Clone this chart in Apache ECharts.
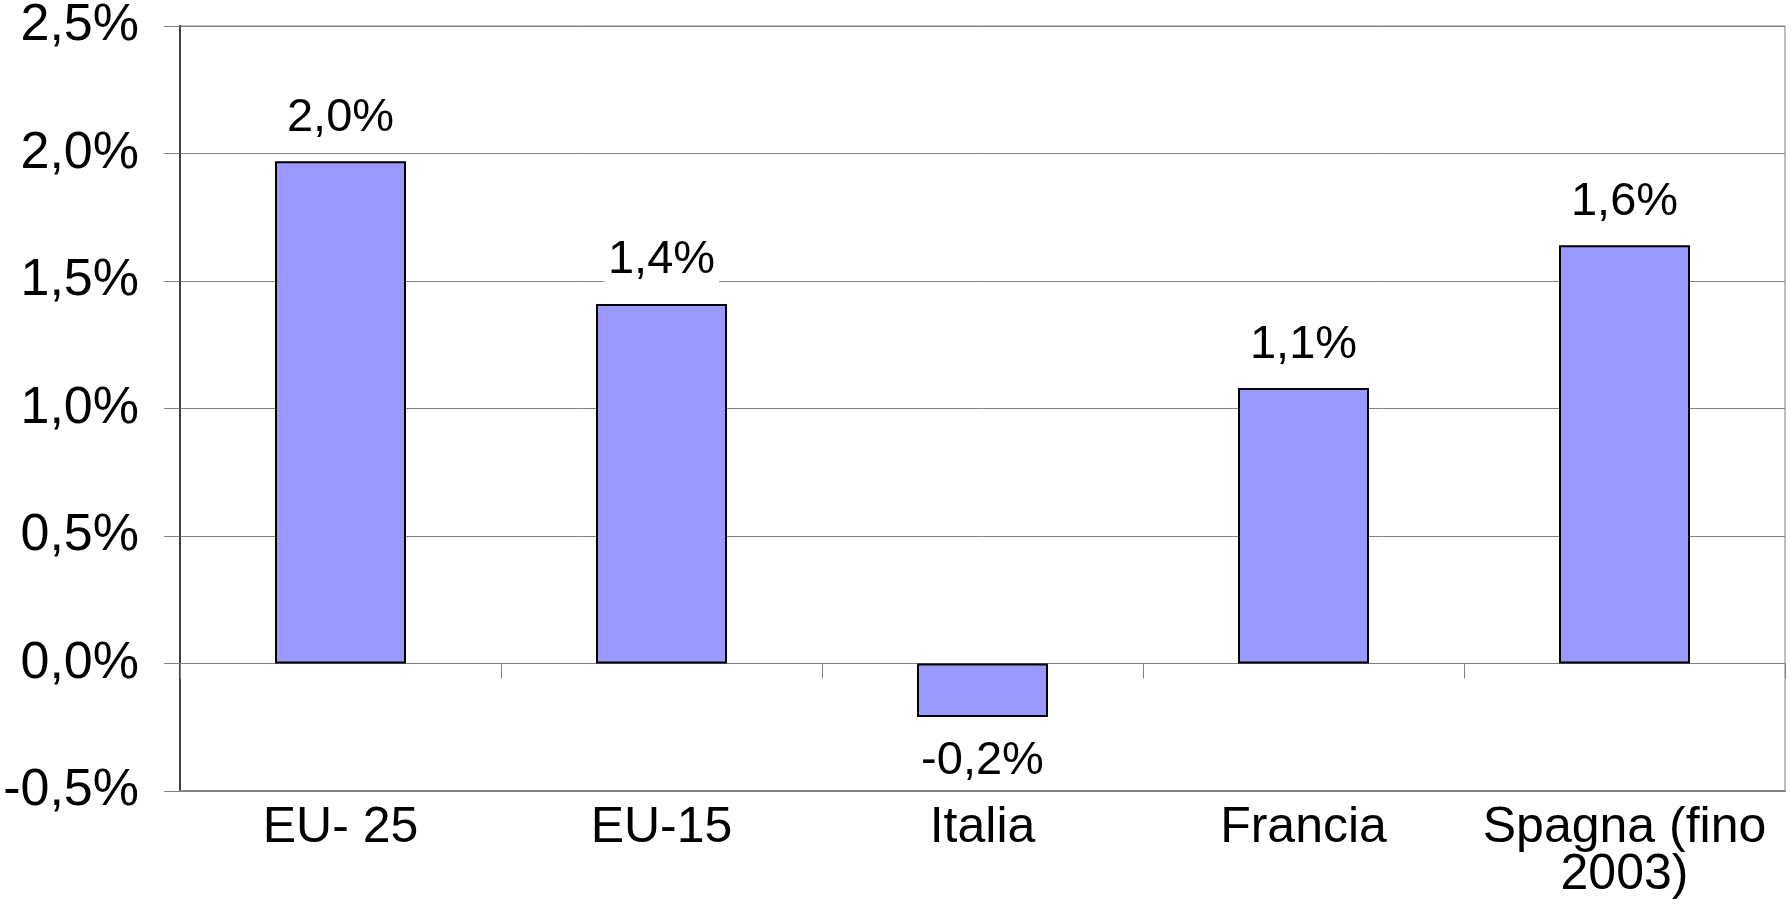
<!DOCTYPE html>
<html>
<head>
<meta charset="utf-8">
<script src="https://cdn.jsdelivr.net/npm/echarts@6/dist/echarts.min.js"></script>
<style>
  html, body { margin: 0; padding: 0; background: #fff; }
  .demo { width: 1791px; height: 921px; }
</style>
</head>
<body>
<div class="demo"></div>
<script>
const categories = ['EU- 25', 'EU-15', 'Italia', 'Francia', 'Spagna (fino\n2003)']
const values = [1.97, 1.41, -0.21, 1.08, 1.64]
const valueLabels = ['2,0%', '1,4%', '-0,2%', '1,1%', '1,6%']

;(function(){
  const chartinstance = echarts.init(document.querySelector('.demo'))
  const font = 'Liberation Sans, Arial, sans-serif'
  const option = {
    animation: false,
    textStyle: { fontFamily: font },
    grid: {
      left: 180, right: 6, top: 23, bottom: 130,
      show: true, borderColor: '#808080', borderWidth: 1
    },
    xAxis: [
      {
        type: 'category',
        data: categories,
        axisLine: { onZero: false, lineStyle: { color: '#808080', width: 2 } },
        axisTick: { show: false },
        axisLabel: { interval: 0, color: '#000', fontSize: 50, fontFamily: font, margin: 14, lineHeight: 47 }
      },
      {
        type: 'category',
        position: 'bottom',
        data: categories,
        axisLine: { onZero: true, lineStyle: { color: '#808080', width: 1 } },
        axisTick: { show: true, length: 15, lineStyle: { color: '#808080' } },
        axisLabel: { show: false }
      }
    ],
    yAxis: {
      type: 'value',
      min: -0.5,
      max: 2.5,
      interval: 0.5,
      axisLine: { show: true, lineStyle: { color: '#404040', width: 2 } },
      axisTick: { show: true, length: 16, lineStyle: { color: '#808080' } },
      axisLabel: {
        color: '#000', fontSize: 52, fontFamily: font, margin: 41,
        formatter: v => v.toFixed(1).replace('.', ',') + '%'
      },
      splitLine: { lineStyle: { color: '#808080', width: 1 } }
    },
    series: [
      {
        type: 'bar',
        data: values.map(v => v < 0 ? { value: v, label: { position: 'bottom' } } : v),
        barWidth: 131,
        itemStyle: { color: '#9999FF', borderColor: '#000', borderWidth: 2 },
        label: {
          show: true,
          position: 'top',
          distance: 20,
          color: '#000',
          fontSize: 47,
          fontFamily: font,
          backgroundColor: '#fff',
          padding: [0, 4],
          formatter: p => valueLabels[p.dataIndex]
        }
      }
    ]
  }
  option && chartinstance.setOption(option)
  window.addEventListener('resize',()=>{
    chartinstance.resize();
  })
})();
</script>
</body>
</html>
